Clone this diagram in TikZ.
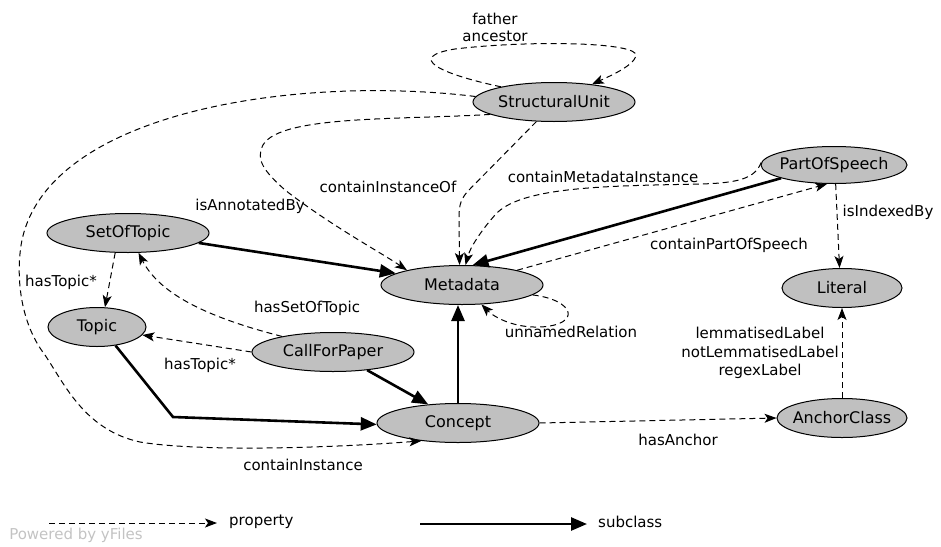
\documentclass[tikz,border=0pt]{standalone}
\usepackage{fontspec}
\setmainfont{DejaVu Sans}
\usetikzlibrary{arrows.meta,shapes.geometric}
\definecolor{entfill}{RGB}{192,192,192}
\definecolor{yfgray}{RGB}{195,195,195}
\tikzset{
  ent/.style={ellipse, draw=black, line width=1pt, fill=entfill, inner sep=0pt,
    minimum height=39pt, font=\fontsize{16}{19}\selectfont},
  prop/.style={draw, line width=1pt, dash pattern=on 6pt off 4pt,
    -{Stealth[length=12pt,width=9pt,inset=3pt]}},
  sub/.style={draw, line width=2.6pt, -{Triangle[length=16pt,width=13pt]}},
  lbl/.style={font=\fontsize{15}{18}\selectfont, inner sep=0pt},
}
\begin{document}
\begin{tikzpicture}[x=1pt,y=-1pt]
\useasboundingbox (0,0) rectangle (941,546);

% entities
\node[ent, minimum width=162pt] (su)  at (554,102) {\makebox[0pt]{StructuralUnit}};
\node[ent, minimum width=146pt, minimum height=37pt] (pos) at (834,165) {\makebox[0pt]{PartOfSpeech}};
\node[ent, minimum width=162pt] (sot) at (128,233) {\makebox[0pt]{SetOfTopic}};
\node[ent, minimum width=162pt] (md)  at (462,285) {\makebox[0pt]{Metadata}};
\node[ent, minimum width=120pt] (lit) at (842,288) {\makebox[0pt]{Literal}};
\node[ent, minimum width=98pt]  (top) at (97,327)  {\makebox[0pt]{Topic}};
\node[ent, minimum width=162pt] (cfp) at (333,352) {\makebox[0pt]{CallForPaper}};
\node[ent, minimum width=162pt] (con) at (458,423) {\makebox[0pt]{Concept}};
\node[ent, minimum width=130pt] (ac)  at (842,418) {\makebox[0pt]{AnchorClass}};

% property edges
\path[prop] (su.164) .. controls (440,74) and (405,57) .. (455,49)
  .. controls (530,40) and (640,42) .. (636,56)
  .. controls (633,66) and (610,76) .. (su.25);
\path[prop] (su.176) .. controls (300,75) and (50,110) .. (22,240)
  .. controls (16,270) and (18,320) .. (45,355)
  .. controls (65,385) and (85,430) .. (140,442)
  .. controls (200,452) and (330,448) .. (con.206);
\path[prop] (su.191) .. controls (400,120) and (280,115) .. (263,145)
  .. controls (255,160) and (265,172) .. (285,190)
  .. controls (330,225) and (380,252) .. (md.165);
\path[prop] (su.228) -- (467,192) .. controls (459,202) and (459,208) .. (459,222) -- (md.97);
\path[prop] (pos.178) .. controls (755,178) and (740,183) .. (700,184)
  .. controls (610,186) and (520,186) .. (495,215)
  .. controls (480,232) and (470,248) .. (md.80);
\path[prop] (md.15) -- (pos.250);
\path[prop] (pos.275) -- (lit.97);
\path[prop] (sot.237) -- (top.68);
\path[prop] (cfp.163) .. controls (210,318) and (160,295) .. (sot.298);
\path[prop] (cfp.180) -- (top.350);
\path[prop] (md.352) .. controls (575,300) and (582,325) .. (540,327)
  .. controls (515,328) and (495,318) .. (md.315);
\path[prop] (con.east) -- (ac.west);
\path[prop] (ac.north) -- (lit.south);

% subclass edges
\path[sub] (pos.194) -- (md.62);
\path[sub] (sot.352) -- (md.170);
\path[sub] (top.315) -- (173,417) -- (con.181);
\path[sub] (cfp.332) -- (con.148);
\path[sub] (con.north) -- (con.north |- md.south);

% labels
\node[lbl, align=center, font=\fontsize{15}{17}\selectfont] (lfa) at (495,27) {father\\ancestor};
\node[lbl] (lcio) at (388,187) {containInstanceOf};
\node[lbl] (liab) at (250,206) {isAnnotatedBy};
\node[lbl] (lcmi) at (603,177) {containMetadataInstance};
\node[lbl] (lcps) at (729,245) {containPartOfSpeech};
\node[lbl] (liib) at (888,212) {isIndexedBy};
\node[lbl] (lht1) at (61,282) {hasTopic*};
\node[lbl] (lhst) at (307,308) {hasSetOfTopic};
\node[lbl] (lht2) at (200,365) {hasTopic*};
\node[lbl] (lunr) at (571,332) {unnamedRelation};
\node[lbl, align=center, font=\fontsize{15}{18.5}\selectfont] (llab) at (760,353) {lemmatisedLabel\\notLemmatisedLabel\\regexLabel};
\node[lbl] (lha) at (678,440) {hasAnchor};
\node[lbl] (lci) at (303,465) {containInstance};

% legend
\coordinate (lp1) at (49,523);
\coordinate (lp2) at (217,523);
\coordinate (ls1) at (420,524);
\coordinate (ls2) at (587,524);
\path[prop] (lp1) -- (lp2);
\path[sub] (ls1) -- (ls2);
\node[lbl, anchor=west] (lprop) at (229,522) {property};
\node[lbl, anchor=west] (lsub) at (598,522) {subclass};
\node[lbl, text=yfgray] (lyf) at (76,535) {Powered by yFiles};
\end{tikzpicture}
\end{document}
